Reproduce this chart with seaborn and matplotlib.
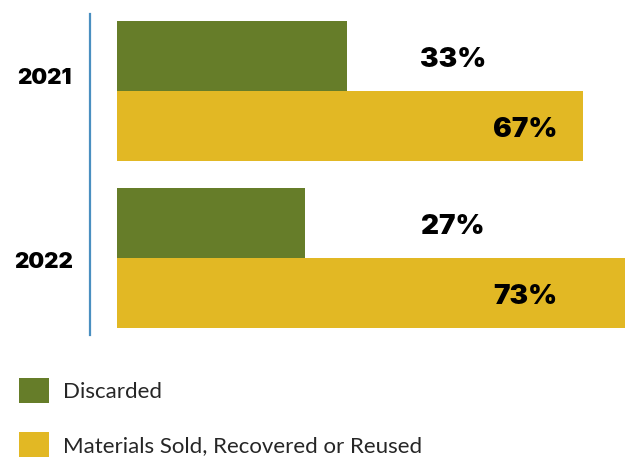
import matplotlib
matplotlib.use("Agg")
import matplotlib.pyplot as plt
import matplotlib.transforms as mtransforms
import seaborn as sns
import pandas as pd

# Share of materials by year
years = ["2021", "2022"]
discarded = [33, 27]
recovered = [67, 73]
series_names = ["Discarded", "Materials Sold, Recovered or Reused"]
colors = ["#667D29", "#E2B824"]

df = pd.DataFrame({
    "year": years * 2,
    "share": discarded + recovered,
    "kind": [series_names[0]] * len(years) + [series_names[1]] * len(years),
})

sns.set_theme(style="white")
plt.rcParams["font.family"] = ["Lato", "DejaVu Sans"]
bold_family = ["Inter", "DejaVu Sans"]

W, H = 625, 459
fig = plt.figure(figsize=(W / 100, H / 100), dpi=100)
ax = fig.add_axes([90 / W, 1 - 335 / H, (W - 90) / W, (335 - 14) / H])

sns.barplot(
    data=df, x="share", y="year", hue="kind", order=years, hue_order=series_names,
    palette=colors, orient="h", width=0.84, saturation=1, linewidth=0,
    ax=ax, legend=True,
)

# x: bars start a little right of the axis line
px_per_unit = (W - 117) / 73
ax.set_xlim(-27 / px_per_unit, 73)
ax.set_ylim(1.46, -0.46)

for side in ["top", "right", "bottom"]:
    ax.spines[side].set_visible(False)
ax.spines["left"].set_color("#4A8FC0")
ax.spines["left"].set_linewidth(1.6)
ax.set_xticks([])
ax.set_yticks([])
ax.set_xlabel("")
ax.set_ylabel("")

# year labels beside the axis line
year_tf = mtransforms.blended_transform_factory(fig.transFigure, ax.transData)
year_shift = [-0.08, 0.025]
for i, (yr, dy) in enumerate(zip(years, year_shift)):
    ax.text(44 / W, i + dy, yr, transform=year_tf, ha="center", va="center",
            family=bold_family, fontweight="black", fontsize=16, color="black")

# value labels at fixed columns
label_x = [(453 - 90) / (W - 90), (557 - 90) / (W - 90)]
label_ha = ["center", "right"]
for ci, cont in enumerate(ax.containers):
    for bar, val in zip(cont.patches, cont.datavalues):
        yc = bar.get_y() + bar.get_height() / 2 + 0.025
        ax.text(label_x[ci], yc, f"{val:.0f}%",
                transform=ax.get_yaxis_transform(),
                ha=label_ha[ci], va="center", fontsize=20, fontweight="black",
                family=bold_family, color="black")

leg = ax.get_legend()
handles, labels = leg.legend_handles, [t.get_text() for t in leg.get_texts()]
leg.remove()
fs = 16
fig.legend(
    handles, labels, loc="upper left", bbox_to_anchor=(19 / W, 1 - 378 / H),
    frameon=False, fontsize=fs, handlelength=1.35, handleheight=1.35,
    labelspacing=1.3, handletextpad=0.65, borderpad=0, borderaxespad=0,
)

fig.savefig("out.png", dpi=100)
